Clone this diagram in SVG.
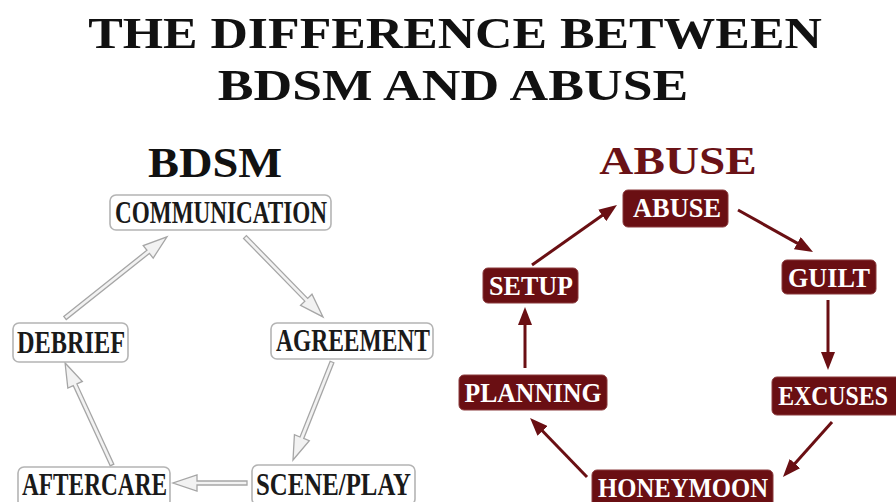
<svg xmlns="http://www.w3.org/2000/svg" width="896" height="502" viewBox="0 0 896 502">
<defs>
<style>
.title{font-family:"Liberation Serif",serif;font-weight:bold;fill:#111;text-anchor:middle;}
.bnode rect{fill:#fff;stroke:#b4b4b4;stroke-width:1.6;}
.bnode text{font-family:"Liberation Serif",serif;font-weight:bold;font-size:31px;fill:#1a1a1a;text-anchor:middle;}
.anode rect{fill:#6a0f13;stroke:#8a3a3d;stroke-width:1;}
.anode text{font-family:"Liberation Serif",serif;font-weight:bold;font-size:28px;fill:#fff;text-anchor:middle;}
.harrow{fill:#f2f2f2;stroke:#a6a6a6;stroke-width:1.3;stroke-linejoin:miter;}
.aline{stroke:#6a0f13;stroke-width:3;fill:none;}
</style>
<marker id="ah" markerUnits="userSpaceOnUse" markerWidth="18" markerHeight="14" refX="8" refY="7" orient="auto">
<path d="M0,0 L18,7 L0,14 Z" fill="#6a0f13"/>
</marker>
</defs>
<rect width="896" height="502" fill="#fff"/>

<text class="title" transform="translate(455,48) scale(1.12,1)" font-size="45" textLength="655" lengthAdjust="spacingAndGlyphs">THE DIFFERENCE BETWEEN</text>
<text class="title" transform="translate(453,100) scale(1.12,1)" font-size="45" textLength="420" lengthAdjust="spacingAndGlyphs">BDSM AND ABUSE</text>
<text class="title" transform="translate(215,177) scale(1.1,1)" font-size="42" textLength="122" lengthAdjust="spacingAndGlyphs">BDSM</text>
<text class="title" transform="translate(678,174) scale(1.1,1)" font-size="40" textLength="143" lengthAdjust="spacingAndGlyphs" style="fill:#6a1216">ABUSE</text>

<g id="bdsm-connectors">
<g transform="translate(245,237) rotate(45.7)"><path class="harrow" d="M0,-2 L87.7,-2 L87.7,-8 L111.7,0 L87.7,8 L87.7,2 L0,2 Z"/></g>
<g transform="translate(332,362) rotate(111.7)"><path class="harrow" d="M0,-2 L81.5,-2 L81.5,-8 L105.5,0 L81.5,8 L81.5,2 L0,2 Z"/></g>
<g transform="translate(247,483) rotate(180)"><path class="harrow" d="M0,-2 L50,-2 L50,-8 L74,0 L50,8 L50,2 L0,2 Z"/></g>
<g transform="translate(112,465) rotate(-114.7)"><path class="harrow" d="M0,-2 L88.3,-2 L88.3,-8 L112.3,0 L88.3,8 L88.3,2 L0,2 Z"/></g>
<g transform="translate(65,318) rotate(-38.5)"><path class="harrow" d="M0,-2 L106.3,-2 L106.3,-8 L130.3,0 L106.3,8 L106.3,2 L0,2 Z"/></g>
</g>

<g id="b-communication" class="bnode"><rect x="110" y="195" width="221" height="35" rx="6"/><text x="221" y="223" textLength="212" lengthAdjust="spacingAndGlyphs">COMMUNICATION</text></g>
<g id="b-agreement" class="bnode"><rect x="271" y="323" width="162" height="36" rx="6"/><text x="353" y="351" textLength="154" lengthAdjust="spacingAndGlyphs">AGREEMENT</text></g>
<g id="b-sceneplay" class="bnode"><rect x="252" y="465" width="163" height="40" rx="6"/><text x="333.5" y="495" textLength="155" lengthAdjust="spacingAndGlyphs">SCENE/PLAY</text></g>
<g id="b-aftercare" class="bnode"><rect x="18" y="467" width="152" height="40" rx="6"/><text x="94.5" y="495" textLength="145" lengthAdjust="spacingAndGlyphs">AFTERCARE</text></g>
<g id="b-debrief" class="bnode"><rect x="13" y="323" width="115" height="39" rx="6"/><text x="71" y="353" textLength="108" lengthAdjust="spacingAndGlyphs">DEBRIEF</text></g>

<g id="abuse-connectors">
<line class="aline" x1="738" y1="210" x2="804.3" y2="247.1" marker-end="url(#ah)"/>
<line class="aline" x1="828" y1="300" x2="828" y2="360" marker-end="url(#ah)"/>
<line class="aline" x1="832" y1="422" x2="789.6" y2="469.5" marker-end="url(#ah)"/>
<line class="aline" x1="587" y1="477" x2="537" y2="425.2" marker-end="url(#ah)"/>
<line class="aline" x1="525" y1="368" x2="525" y2="317" marker-end="url(#ah)"/>
<line class="aline" x1="532" y1="265" x2="608.8" y2="210.8" marker-end="url(#ah)"/>
</g>

<g id="a-abuse" class="anode"><rect x="623" y="190" width="105" height="37" rx="5"/><text x="677" y="217" textLength="88" lengthAdjust="spacingAndGlyphs">ABUSE</text></g>
<g id="a-guilt" class="anode"><rect x="782" y="260" width="94" height="34" rx="5"/><text x="829" y="287" textLength="82" lengthAdjust="spacingAndGlyphs">GUILT</text></g>
<g id="a-excuses" class="anode"><rect x="772" y="377" width="134" height="38" rx="5"/><text transform="translate(833,405) scale(0.85,1)">EXCUSES</text></g>
<g id="a-honeymoon" class="anode"><rect x="592" y="470" width="181" height="40" rx="5"/><text x="683" y="497" textLength="170" lengthAdjust="spacingAndGlyphs">HONEYMOON</text></g>
<g id="a-planning" class="anode"><rect x="459" y="375" width="148" height="35" rx="5"/><text x="533" y="402" textLength="137" lengthAdjust="spacingAndGlyphs">PLANNING</text></g>
<g id="a-setup" class="anode"><rect x="483" y="268" width="95" height="35" rx="5"/><text x="531" y="295" textLength="84" lengthAdjust="spacingAndGlyphs">SETUP</text></g>
</svg>
